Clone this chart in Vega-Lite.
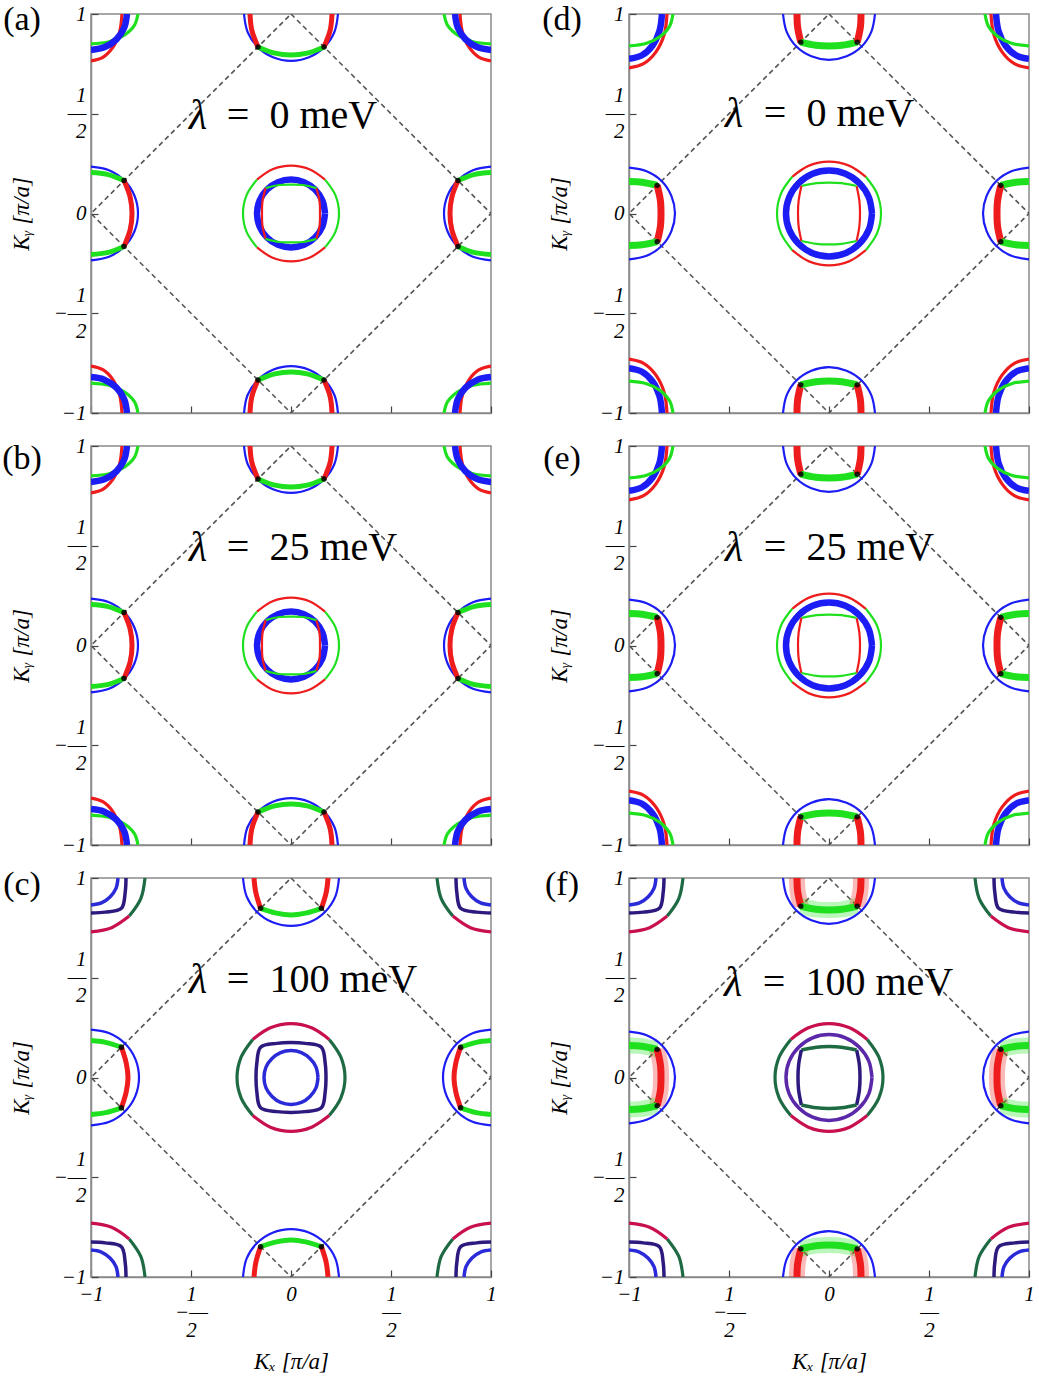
{
"$schema":"https://vega.github.io/schema/vega-lite/v6.json",
"background":"white",
"padding":{"left":1,"top":2,"right":4,"bottom":4},
"bounds":"flush",
"columns":2,
"spacing":{"row":33,"column":138},
"datasets":{
"dia":[{"x":0,"y":1},{"x":1,"y":0},{"x":0,"y":-1},{"x":-1,"y":0},{"x":0,"y":1}],
"txt":[{"p":"a","k":"l","x":-0.465,"y":0.49,"t":"λ"},{"p":"a","k":"r","x":0.055,"y":0.49,"t":"=\u00a0\u00a00\u00a0meV"},
{"p":"b","k":"l","x":-0.465,"y":0.49,"t":"λ"},{"p":"b","k":"r","x":0.105,"y":0.49,"t":"=\u00a0\u00a025\u00a0meV"},
{"p":"c","k":"l","x":-0.465,"y":0.49,"t":"λ"},{"p":"c","k":"r","x":0.155,"y":0.49,"t":"=\u00a0\u00a0100\u00a0meV"},
{"p":"d","k":"l","x":-0.475,"y":0.5,"t":"λ"},{"p":"d","k":"r","x":0.05,"y":0.5,"t":"=\u00a0\u00a00\u00a0meV"},
{"p":"e","k":"l","x":-0.475,"y":0.49,"t":"λ"},{"p":"e","k":"r","x":0.1,"y":0.49,"t":"=\u00a0\u00a025\u00a0meV"},
{"p":"f","k":"l","x":-0.48,"y":0.475,"t":"λ"},{"p":"f","k":"r","x":0.145,"y":0.475,"t":"=\u00a0\u00a0100\u00a0meV"}],
"lab":[{"p":"a","x":-1.345,"y":0.97,"t":"(a)"},{"p":"b","x":-1.345,"y":0.935,"t":"(b)"},{"p":"c","x":-1.345,"y":0.965,"t":"(c)"},{"p":"d","x":-1.335,"y":0.97,"t":"(d)"},{"p":"e","x":-1.335,"y":0.935,"t":"(e)"},{"p":"f","x":-1.335,"y":0.965,"t":"(f)"}],
"dots":[
{"g":"ab","x":0.835,"y":0.165},{"g":"ab","x":0.835,"y":-0.165},{"g":"ab","x":-0.835,"y":0.165},{"g":"ab","x":-0.835,"y":-0.165},{"g":"ab","x":0.165,"y":0.835},{"g":"ab","x":-0.165,"y":0.835},{"g":"ab","x":0.165,"y":-0.835},{"g":"ab","x":-0.165,"y":-0.835},
{"g":"def","x":0.859,"y":0.141},{"g":"def","x":0.859,"y":-0.141},{"g":"def","x":-0.859,"y":0.141},{"g":"def","x":-0.859,"y":-0.141},{"g":"def","x":0.141,"y":0.859},{"g":"def","x":-0.141,"y":0.859},{"g":"def","x":0.141,"y":-0.859},{"g":"def","x":-0.141,"y":-0.859},
{"g":"c","x":0.848,"y":0.152},{"g":"c","x":0.848,"y":-0.152},{"g":"c","x":-0.848,"y":0.152},{"g":"c","x":-0.848,"y":-0.152},{"g":"c","x":0.152,"y":0.848},{"g":"c","x":-0.152,"y":0.848},{"g":"c","x":0.152,"y":-0.848},{"g":"c","x":-0.152,"y":-0.848}],
"seg":[
{"s":"gw1g","g":"f","c":"G","w":"W"},{"s":"gw1r","g":"f","c":"R","w":"W"},{"s":"gw1h","g":"f","c":"G","w":"W"},
{"s":"gw2g","g":"f","c":"G","w":"W"},{"s":"gw2r","g":"f","c":"R","w":"W"},{"s":"gw2h","g":"f","c":"G","w":"W"},
{"s":"gw3r","g":"f","c":"R","w":"W"},{"s":"gw3g","g":"f","c":"G","w":"W"},{"s":"gw3s","g":"f","c":"R","w":"W"},
{"s":"gw4r","g":"f","c":"R","w":"W"},{"s":"gw4g","g":"f","c":"G","w":"W"},{"s":"gw4s","g":"f","c":"R","w":"W"},
{"s":"ao1","g":"ab","c":"G","w":"t"},{"s":"ao2","g":"ab","c":"R","w":"t"},{"s":"ao3","g":"ab","c":"G","w":"t"},{"s":"ao4","g":"ab","c":"R","w":"t"},
{"s":"ab0","g":"ab","c":"B","w":"K"},
{"s":"ai1","g":"ab","c":"R","w":"t"},{"s":"ai2","g":"ab","c":"G","w":"t"},{"s":"ai3","g":"ab","c":"R","w":"t"},{"s":"ai4","g":"ab","c":"G","w":"t"},
{"s":"ae1b","g":"ab","c":"B","w":"t"},{"s":"ae1g","g":"ab","c":"G","w":"k"},{"s":"ae1r","g":"ab","c":"R","w":"k"},{"s":"ae1h","g":"ab","c":"G","w":"k"},
{"s":"ae2b","g":"ab","c":"B","w":"t"},{"s":"ae2g","g":"ab","c":"G","w":"k"},{"s":"ae2r","g":"ab","c":"R","w":"k"},{"s":"ae2h","g":"ab","c":"G","w":"k"},
{"s":"ae3b","g":"ab","c":"B","w":"t"},{"s":"ae3r","g":"ab","c":"R","w":"k"},{"s":"ae3g","g":"ab","c":"G","w":"k"},{"s":"ae3s","g":"ab","c":"R","w":"k"},
{"s":"ae4b","g":"ab","c":"B","w":"t"},{"s":"ae4r","g":"ab","c":"R","w":"k"},{"s":"ae4g","g":"ab","c":"G","w":"k"},{"s":"ae4s","g":"ab","c":"R","w":"k"},
{"s":"ak1r","g":"ab","c":"R","w":"m"},{"s":"ak1g","g":"ab","c":"G","w":"m"},{"s":"ak1b","g":"ab","c":"B","w":"K"},
{"s":"ak2r","g":"ab","c":"R","w":"m"},{"s":"ak2g","g":"ab","c":"G","w":"m"},{"s":"ak2b","g":"ab","c":"B","w":"K"},
{"s":"ak3r","g":"ab","c":"R","w":"m"},{"s":"ak3g","g":"ab","c":"G","w":"m"},{"s":"ak3b","g":"ab","c":"B","w":"K"},
{"s":"ak4r","g":"ab","c":"R","w":"m"},{"s":"ak4g","g":"ab","c":"G","w":"m"},{"s":"ak4b","g":"ab","c":"B","w":"K"},
{"s":"do1","g":"de","c":"G","w":"t"},{"s":"do2","g":"de","c":"R","w":"t"},{"s":"do3","g":"de","c":"G","w":"t"},{"s":"do4","g":"de","c":"R","w":"t"},
{"s":"db0","g":"de","c":"B","w":"K"},
{"s":"di1","g":"de","c":"R","w":"t"},{"s":"di2","g":"de","c":"G","w":"t"},{"s":"di3","g":"de","c":"R","w":"t"},{"s":"di4","g":"de","c":"G","w":"t"},
{"s":"dk1r","g":"de","c":"R","w":"m"},{"s":"dk1g","g":"de","c":"G","w":"m"},{"s":"dk1b","g":"de","c":"B","w":"K"},
{"s":"dk2r","g":"de","c":"R","w":"m"},{"s":"dk2g","g":"de","c":"G","w":"m"},{"s":"dk2b","g":"de","c":"B","w":"K"},
{"s":"dk3r","g":"de","c":"R","w":"m"},{"s":"dk3g","g":"de","c":"G","w":"m"},{"s":"dk3b","g":"de","c":"B","w":"K"},
{"s":"dk4r","g":"de","c":"R","w":"m"},{"s":"dk4g","g":"de","c":"G","w":"m"},{"s":"dk4b","g":"de","c":"B","w":"K"},
{"s":"fe1b","g":"def","c":"B","w":"t"},{"s":"fe1g","g":"def","c":"G","w":"X"},{"s":"fe1r","g":"def","c":"R","w":"X"},{"s":"fe1h","g":"def","c":"G","w":"X"},
{"s":"fe2b","g":"def","c":"B","w":"t"},{"s":"fe2g","g":"def","c":"G","w":"X"},{"s":"fe2r","g":"def","c":"R","w":"X"},{"s":"fe2h","g":"def","c":"G","w":"X"},
{"s":"fe3b","g":"def","c":"B","w":"t"},{"s":"fe3r","g":"def","c":"R","w":"X"},{"s":"fe3g","g":"def","c":"G","w":"X"},{"s":"fe3s","g":"def","c":"R","w":"X"},
{"s":"fe4b","g":"def","c":"B","w":"t"},{"s":"fe4r","g":"def","c":"R","w":"X"},{"s":"fe4g","g":"def","c":"G","w":"X"},{"s":"fe4s","g":"def","c":"R","w":"X"},
{"s":"cn0","g":"c","c":"N","w":"M"},{"s":"cl0","g":"c","c":"L","w":"M"},
{"s":"ce1b","g":"c","c":"B","w":"t"},{"s":"ce1g","g":"c","c":"G","w":"k"},{"s":"ce1r","g":"c","c":"R","w":"k"},{"s":"ce1h","g":"c","c":"G","w":"k"},
{"s":"ce2b","g":"c","c":"B","w":"t"},{"s":"ce2g","g":"c","c":"G","w":"k"},{"s":"ce2r","g":"c","c":"R","w":"k"},{"s":"ce2h","g":"c","c":"G","w":"k"},
{"s":"ce3b","g":"c","c":"B","w":"t"},{"s":"ce3r","g":"c","c":"R","w":"k"},{"s":"ce3g","g":"c","c":"G","w":"k"},{"s":"ce3s","g":"c","c":"R","w":"k"},
{"s":"ce4b","g":"c","c":"B","w":"t"},{"s":"ce4r","g":"c","c":"R","w":"k"},{"s":"ce4g","g":"c","c":"G","w":"k"},{"s":"ce4s","g":"c","c":"R","w":"k"},
{"s":"xo1","g":"cf","c":"D","w":"m"},{"s":"xo2","g":"cf","c":"C","w":"m"},{"s":"xo3","g":"cf","c":"D","w":"m"},{"s":"xo4","g":"cf","c":"C","w":"m"},
{"s":"xk1o","g":"cf","c":"D","w":"m"},{"s":"xk1p","g":"cf","c":"C","w":"m"},{"s":"xk1n","g":"cf","c":"N","w":"M"},{"s":"xk1l","g":"cf","c":"L","w":"M"},
{"s":"xk2o","g":"cf","c":"D","w":"m"},{"s":"xk2p","g":"cf","c":"C","w":"m"},{"s":"xk2n","g":"cf","c":"N","w":"M"},{"s":"xk2l","g":"cf","c":"L","w":"M"},
{"s":"xk3o","g":"cf","c":"D","w":"m"},{"s":"xk3p","g":"cf","c":"C","w":"m"},{"s":"xk3n","g":"cf","c":"N","w":"M"},{"s":"xk3l","g":"cf","c":"L","w":"M"},
{"s":"xk4o","g":"cf","c":"D","w":"m"},{"s":"xk4p","g":"cf","c":"C","w":"m"},{"s":"xk4n","g":"cf","c":"N","w":"M"},{"s":"xk4l","g":"cf","c":"L","w":"M"},
{"s":"fp0","g":"f","c":"P","w":"M"},
{"s":"fi1","g":"f","c":"N","w":"M"},{"s":"fi2","g":"f","c":"D","w":"M"},{"s":"fi3","g":"f","c":"N","w":"M"},{"s":"fi4","g":"f","c":"D","w":"M"}],
"pts":[
{"s":"gw1g","x":1,"y":0.16},{"s":"gw1g","x":0.935,"y":0.157},{"s":"gw1g","x":0.859,"y":0.141},
{"s":"gw1r","x":0.859,"y":0.141},{"s":"gw1r","x":0.843,"y":0.065},{"s":"gw1r","x":0.84,"y":0},{"s":"gw1r","x":0.843,"y":-0.065},{"s":"gw1r","x":0.859,"y":-0.141},
{"s":"gw1h","x":0.859,"y":-0.141},{"s":"gw1h","x":0.935,"y":-0.157},{"s":"gw1h","x":1,"y":-0.16},
{"s":"gw2g","x":-1,"y":0.16},{"s":"gw2g","x":-0.935,"y":0.157},{"s":"gw2g","x":-0.859,"y":0.141},
{"s":"gw2r","x":-0.859,"y":0.141},{"s":"gw2r","x":-0.843,"y":0.065},{"s":"gw2r","x":-0.84,"y":0},{"s":"gw2r","x":-0.843,"y":-0.065},{"s":"gw2r","x":-0.859,"y":-0.141},
{"s":"gw2h","x":-0.859,"y":-0.141},{"s":"gw2h","x":-0.935,"y":-0.157},{"s":"gw2h","x":-1,"y":-0.16},
{"s":"gw3r","x":-0.16,"y":1},{"s":"gw3r","x":-0.157,"y":0.935},{"s":"gw3r","x":-0.141,"y":0.859},
{"s":"gw3g","x":-0.141,"y":0.859},{"s":"gw3g","x":-0.065,"y":0.843},{"s":"gw3g","x":0,"y":0.84},{"s":"gw3g","x":0.065,"y":0.843},{"s":"gw3g","x":0.141,"y":0.859},
{"s":"gw3s","x":0.141,"y":0.859},{"s":"gw3s","x":0.157,"y":0.935},{"s":"gw3s","x":0.16,"y":1},
{"s":"gw4r","x":-0.16,"y":-1},{"s":"gw4r","x":-0.157,"y":-0.935},{"s":"gw4r","x":-0.141,"y":-0.859},
{"s":"gw4g","x":-0.141,"y":-0.859},{"s":"gw4g","x":-0.065,"y":-0.843},{"s":"gw4g","x":0,"y":-0.84},{"s":"gw4g","x":0.065,"y":-0.843},{"s":"gw4g","x":0.141,"y":-0.859},
{"s":"gw4s","x":0.141,"y":-0.859},{"s":"gw4s","x":0.157,"y":-0.935},{"s":"gw4s","x":0.16,"y":-1},
{"s":"ao1","x":0.17,"y":-0.17},{"s":"ao1","x":0.222,"y":-0.092},{"s":"ao1","x":0.24,"y":0},{"s":"ao1","x":0.222,"y":0.092},{"s":"ao1","x":0.17,"y":0.17},
{"s":"ao2","x":0.17,"y":0.17},{"s":"ao2","x":0.092,"y":0.222},{"s":"ao2","x":0,"y":0.24},{"s":"ao2","x":-0.092,"y":0.222},{"s":"ao2","x":-0.17,"y":0.17},
{"s":"ao3","x":-0.17,"y":0.17},{"s":"ao3","x":-0.222,"y":0.092},{"s":"ao3","x":-0.24,"y":0},{"s":"ao3","x":-0.222,"y":-0.092},{"s":"ao3","x":-0.17,"y":-0.17},
{"s":"ao4","x":-0.17,"y":-0.17},{"s":"ao4","x":-0.092,"y":-0.222},{"s":"ao4","x":0,"y":-0.24},{"s":"ao4","x":0.092,"y":-0.222},{"s":"ao4","x":0.17,"y":-0.17},
{"s":"ab0","x":0.17,"y":0},{"s":"ab0","x":0.157,"y":0.065},{"s":"ab0","x":0.12,"y":0.12},{"s":"ab0","x":0.065,"y":0.157},{"s":"ab0","x":0,"y":0.17},{"s":"ab0","x":-0.065,"y":0.157},{"s":"ab0","x":-0.12,"y":0.12},{"s":"ab0","x":-0.157,"y":0.065},{"s":"ab0","x":-0.17,"y":0},{"s":"ab0","x":-0.157,"y":-0.065},{"s":"ab0","x":-0.12,"y":-0.12},{"s":"ab0","x":-0.065,"y":-0.157},{"s":"ab0","x":0,"y":-0.17},{"s":"ab0","x":0.065,"y":-0.157},{"s":"ab0","x":0.12,"y":-0.12},{"s":"ab0","x":0.157,"y":-0.065},{"s":"ab0","x":0.17,"y":0},
{"s":"ai1","x":0.127,"y":-0.127},{"s":"ai1","x":0.143,"y":-0.059},{"s":"ai1","x":0.145,"y":0},{"s":"ai1","x":0.143,"y":0.059},{"s":"ai1","x":0.127,"y":0.127},
{"s":"ai2","x":0.127,"y":0.127},{"s":"ai2","x":0.059,"y":0.143},{"s":"ai2","x":0,"y":0.145},{"s":"ai2","x":-0.059,"y":0.143},{"s":"ai2","x":-0.127,"y":0.127},
{"s":"ai3","x":-0.127,"y":0.127},{"s":"ai3","x":-0.143,"y":0.059},{"s":"ai3","x":-0.145,"y":0},{"s":"ai3","x":-0.143,"y":-0.059},{"s":"ai3","x":-0.127,"y":-0.127},
{"s":"ai4","x":-0.127,"y":-0.127},{"s":"ai4","x":-0.059,"y":-0.143},{"s":"ai4","x":0,"y":-0.145},{"s":"ai4","x":0.059,"y":-0.143},{"s":"ai4","x":0.127,"y":-0.127},
{"s":"ae1b","x":1,"y":0.235},{"s":"ae1b","x":0.91,"y":0.217},{"s":"ae1b","x":0.834,"y":0.166},{"s":"ae1b","x":0.783,"y":0.09},{"s":"ae1b","x":0.765,"y":0},{"s":"ae1b","x":0.783,"y":-0.09},{"s":"ae1b","x":0.834,"y":-0.166},{"s":"ae1b","x":0.91,"y":-0.217},{"s":"ae1b","x":1,"y":-0.235},
{"s":"ae1g","x":1,"y":0.205},{"s":"ae1g","x":0.919,"y":0.196},{"s":"ae1g","x":0.835,"y":0.165},
{"s":"ae1r","x":0.835,"y":0.165},{"s":"ae1r","x":0.804,"y":0.081},{"s":"ae1r","x":0.795,"y":0},{"s":"ae1r","x":0.804,"y":-0.081},{"s":"ae1r","x":0.835,"y":-0.165},
{"s":"ae1h","x":0.835,"y":-0.165},{"s":"ae1h","x":0.919,"y":-0.196},{"s":"ae1h","x":1,"y":-0.205},
{"s":"ae2b","x":-1,"y":0.235},{"s":"ae2b","x":-0.91,"y":0.217},{"s":"ae2b","x":-0.834,"y":0.166},{"s":"ae2b","x":-0.783,"y":0.09},{"s":"ae2b","x":-0.765,"y":0},{"s":"ae2b","x":-0.783,"y":-0.09},{"s":"ae2b","x":-0.834,"y":-0.166},{"s":"ae2b","x":-0.91,"y":-0.217},{"s":"ae2b","x":-1,"y":-0.235},
{"s":"ae2g","x":-1,"y":0.205},{"s":"ae2g","x":-0.919,"y":0.196},{"s":"ae2g","x":-0.835,"y":0.165},
{"s":"ae2r","x":-0.835,"y":0.165},{"s":"ae2r","x":-0.804,"y":0.081},{"s":"ae2r","x":-0.795,"y":0},{"s":"ae2r","x":-0.804,"y":-0.081},{"s":"ae2r","x":-0.835,"y":-0.165},
{"s":"ae2h","x":-0.835,"y":-0.165},{"s":"ae2h","x":-0.919,"y":-0.196},{"s":"ae2h","x":-1,"y":-0.205},
{"s":"ae3b","x":-0.235,"y":1},{"s":"ae3b","x":-0.217,"y":0.91},{"s":"ae3b","x":-0.166,"y":0.834},{"s":"ae3b","x":-0.09,"y":0.783},{"s":"ae3b","x":0,"y":0.765},{"s":"ae3b","x":0.09,"y":0.783},{"s":"ae3b","x":0.166,"y":0.834},{"s":"ae3b","x":0.217,"y":0.91},{"s":"ae3b","x":0.235,"y":1},
{"s":"ae3r","x":-0.205,"y":1},{"s":"ae3r","x":-0.196,"y":0.919},{"s":"ae3r","x":-0.165,"y":0.835},
{"s":"ae3g","x":-0.165,"y":0.835},{"s":"ae3g","x":-0.081,"y":0.804},{"s":"ae3g","x":0,"y":0.795},{"s":"ae3g","x":0.081,"y":0.804},{"s":"ae3g","x":0.165,"y":0.835},
{"s":"ae3s","x":0.165,"y":0.835},{"s":"ae3s","x":0.196,"y":0.919},{"s":"ae3s","x":0.205,"y":1},
{"s":"ae4b","x":-0.235,"y":-1},{"s":"ae4b","x":-0.217,"y":-0.91},{"s":"ae4b","x":-0.166,"y":-0.834},{"s":"ae4b","x":-0.09,"y":-0.783},{"s":"ae4b","x":0,"y":-0.765},{"s":"ae4b","x":0.09,"y":-0.783},{"s":"ae4b","x":0.166,"y":-0.834},{"s":"ae4b","x":0.217,"y":-0.91},{"s":"ae4b","x":0.235,"y":-1},
{"s":"ae4r","x":-0.205,"y":-1},{"s":"ae4r","x":-0.196,"y":-0.919},{"s":"ae4r","x":-0.165,"y":-0.835},
{"s":"ae4g","x":-0.165,"y":-0.835},{"s":"ae4g","x":-0.081,"y":-0.804},{"s":"ae4g","x":0,"y":-0.795},{"s":"ae4g","x":0.081,"y":-0.804},{"s":"ae4g","x":0.165,"y":-0.835},
{"s":"ae4s","x":0.165,"y":-0.835},{"s":"ae4s","x":0.196,"y":-0.919},{"s":"ae4s","x":0.205,"y":-1},
{"s":"ak1r","x":-0.845,"y":1},{"s":"ak1r","x":-0.857,"y":0.91},{"s":"ak1r","x":-0.89,"y":0.834},{"s":"ak1r","x":-0.941,"y":0.783},{"s":"ak1r","x":-1,"y":0.765},
{"s":"ak1g","x":-0.765,"y":1},{"s":"ak1g","x":-0.783,"y":0.943},{"s":"ak1g","x":-0.834,"y":0.894},{"s":"ak1g","x":-0.91,"y":0.861},{"s":"ak1g","x":-1,"y":0.85},
{"s":"ak1b","x":-0.82,"y":1},{"s":"ak1b","x":-0.834,"y":0.931},{"s":"ak1b","x":-0.873,"y":0.873},{"s":"ak1b","x":-0.931,"y":0.834},{"s":"ak1b","x":-1,"y":0.82},
{"s":"ak2r","x":0.845,"y":1},{"s":"ak2r","x":0.857,"y":0.91},{"s":"ak2r","x":0.89,"y":0.834},{"s":"ak2r","x":0.941,"y":0.783},{"s":"ak2r","x":1,"y":0.765},
{"s":"ak2g","x":0.765,"y":1},{"s":"ak2g","x":0.783,"y":0.943},{"s":"ak2g","x":0.834,"y":0.894},{"s":"ak2g","x":0.91,"y":0.861},{"s":"ak2g","x":1,"y":0.85},
{"s":"ak2b","x":0.82,"y":1},{"s":"ak2b","x":0.834,"y":0.931},{"s":"ak2b","x":0.873,"y":0.873},{"s":"ak2b","x":0.931,"y":0.834},{"s":"ak2b","x":1,"y":0.82},
{"s":"ak3r","x":-0.845,"y":-1},{"s":"ak3r","x":-0.857,"y":-0.91},{"s":"ak3r","x":-0.89,"y":-0.834},{"s":"ak3r","x":-0.941,"y":-0.783},{"s":"ak3r","x":-1,"y":-0.765},
{"s":"ak3g","x":-0.765,"y":-1},{"s":"ak3g","x":-0.783,"y":-0.943},{"s":"ak3g","x":-0.834,"y":-0.894},{"s":"ak3g","x":-0.91,"y":-0.861},{"s":"ak3g","x":-1,"y":-0.85},
{"s":"ak3b","x":-0.82,"y":-1},{"s":"ak3b","x":-0.834,"y":-0.931},{"s":"ak3b","x":-0.873,"y":-0.873},{"s":"ak3b","x":-0.931,"y":-0.834},{"s":"ak3b","x":-1,"y":-0.82},
{"s":"ak4r","x":0.845,"y":-1},{"s":"ak4r","x":0.857,"y":-0.91},{"s":"ak4r","x":0.89,"y":-0.834},{"s":"ak4r","x":0.941,"y":-0.783},{"s":"ak4r","x":1,"y":-0.765},
{"s":"ak4g","x":0.765,"y":-1},{"s":"ak4g","x":0.783,"y":-0.943},{"s":"ak4g","x":0.834,"y":-0.894},{"s":"ak4g","x":0.91,"y":-0.861},{"s":"ak4g","x":1,"y":-0.85},
{"s":"ak4b","x":0.82,"y":-1},{"s":"ak4b","x":0.834,"y":-0.931},{"s":"ak4b","x":0.873,"y":-0.873},{"s":"ak4b","x":0.931,"y":-0.834},{"s":"ak4b","x":1,"y":-0.82},
{"s":"do1","x":0.184,"y":-0.184},{"s":"do1","x":0.24,"y":-0.1},{"s":"do1","x":0.26,"y":0},{"s":"do1","x":0.24,"y":0.1},{"s":"do1","x":0.184,"y":0.184},
{"s":"do2","x":0.184,"y":0.184},{"s":"do2","x":0.1,"y":0.24},{"s":"do2","x":0,"y":0.26},{"s":"do2","x":-0.1,"y":0.24},{"s":"do2","x":-0.184,"y":0.184},
{"s":"do3","x":-0.184,"y":0.184},{"s":"do3","x":-0.24,"y":0.1},{"s":"do3","x":-0.26,"y":0},{"s":"do3","x":-0.24,"y":-0.1},{"s":"do3","x":-0.184,"y":-0.184},
{"s":"do4","x":-0.184,"y":-0.184},{"s":"do4","x":-0.1,"y":-0.24},{"s":"do4","x":0,"y":-0.26},{"s":"do4","x":0.1,"y":-0.24},{"s":"do4","x":0.184,"y":-0.184},
{"s":"db0","x":0.215,"y":0},{"s":"db0","x":0.199,"y":0.082},{"s":"db0","x":0.152,"y":0.152},{"s":"db0","x":0.082,"y":0.199},{"s":"db0","x":0,"y":0.215},{"s":"db0","x":-0.082,"y":0.199},{"s":"db0","x":-0.152,"y":0.152},{"s":"db0","x":-0.199,"y":0.082},{"s":"db0","x":-0.215,"y":0},{"s":"db0","x":-0.199,"y":-0.082},{"s":"db0","x":-0.152,"y":-0.152},{"s":"db0","x":-0.082,"y":-0.199},{"s":"db0","x":0,"y":-0.215},{"s":"db0","x":0.082,"y":-0.199},{"s":"db0","x":0.152,"y":-0.152},{"s":"db0","x":0.199,"y":-0.082},{"s":"db0","x":0.215,"y":0},
{"s":"di1","x":0.138,"y":-0.138},{"s":"di1","x":0.152,"y":-0.063},{"s":"di1","x":0.155,"y":0},{"s":"di1","x":0.152,"y":0.063},{"s":"di1","x":0.138,"y":0.138},
{"s":"di2","x":0.138,"y":0.138},{"s":"di2","x":0.063,"y":0.152},{"s":"di2","x":0,"y":0.155},{"s":"di2","x":-0.063,"y":0.152},{"s":"di2","x":-0.138,"y":0.138},
{"s":"di3","x":-0.138,"y":0.138},{"s":"di3","x":-0.152,"y":0.063},{"s":"di3","x":-0.155,"y":0},{"s":"di3","x":-0.152,"y":-0.063},{"s":"di3","x":-0.138,"y":-0.138},
{"s":"di4","x":-0.138,"y":-0.138},{"s":"di4","x":-0.063,"y":-0.152},{"s":"di4","x":0,"y":-0.155},{"s":"di4","x":0.063,"y":-0.152},{"s":"di4","x":0.138,"y":-0.138},
{"s":"dk1r","x":-0.81,"y":1},{"s":"dk1r","x":-0.824,"y":0.897},{"s":"dk1r","x":-0.866,"y":0.809},{"s":"dk1r","x":-0.927,"y":0.751},{"s":"dk1r","x":-1,"y":0.73},
{"s":"dk1b","x":-0.835,"y":1},{"s":"dk1b","x":-0.848,"y":0.914},{"s":"dk1b","x":-0.883,"y":0.841},{"s":"dk1b","x":-0.937,"y":0.792},{"s":"dk1b","x":-1,"y":0.775},
{"s":"dk1g","x":-0.78,"y":1},{"s":"dk1g","x":-0.797,"y":0.939},{"s":"dk1g","x":-0.844,"y":0.887},{"s":"dk1g","x":-0.916,"y":0.852},{"s":"dk1g","x":-1,"y":0.84},
{"s":"dk2r","x":0.81,"y":1},{"s":"dk2r","x":0.824,"y":0.897},{"s":"dk2r","x":0.866,"y":0.809},{"s":"dk2r","x":0.927,"y":0.751},{"s":"dk2r","x":1,"y":0.73},
{"s":"dk2b","x":0.835,"y":1},{"s":"dk2b","x":0.848,"y":0.914},{"s":"dk2b","x":0.883,"y":0.841},{"s":"dk2b","x":0.937,"y":0.792},{"s":"dk2b","x":1,"y":0.775},
{"s":"dk2g","x":0.78,"y":1},{"s":"dk2g","x":0.797,"y":0.939},{"s":"dk2g","x":0.844,"y":0.887},{"s":"dk2g","x":0.916,"y":0.852},{"s":"dk2g","x":1,"y":0.84},
{"s":"dk3r","x":-0.81,"y":-1},{"s":"dk3r","x":-0.824,"y":-0.897},{"s":"dk3r","x":-0.866,"y":-0.809},{"s":"dk3r","x":-0.927,"y":-0.751},{"s":"dk3r","x":-1,"y":-0.73},
{"s":"dk3b","x":-0.835,"y":-1},{"s":"dk3b","x":-0.848,"y":-0.914},{"s":"dk3b","x":-0.883,"y":-0.841},{"s":"dk3b","x":-0.937,"y":-0.792},{"s":"dk3b","x":-1,"y":-0.775},
{"s":"dk3g","x":-0.78,"y":-1},{"s":"dk3g","x":-0.797,"y":-0.939},{"s":"dk3g","x":-0.844,"y":-0.887},{"s":"dk3g","x":-0.916,"y":-0.852},{"s":"dk3g","x":-1,"y":-0.84},
{"s":"dk4r","x":0.81,"y":-1},{"s":"dk4r","x":0.824,"y":-0.897},{"s":"dk4r","x":0.866,"y":-0.809},{"s":"dk4r","x":0.927,"y":-0.751},{"s":"dk4r","x":1,"y":-0.73},
{"s":"dk4b","x":0.835,"y":-1},{"s":"dk4b","x":0.848,"y":-0.914},{"s":"dk4b","x":0.883,"y":-0.841},{"s":"dk4b","x":0.937,"y":-0.792},{"s":"dk4b","x":1,"y":-0.775},
{"s":"dk4g","x":0.78,"y":-1},{"s":"dk4g","x":0.797,"y":-0.939},{"s":"dk4g","x":0.844,"y":-0.887},{"s":"dk4g","x":0.916,"y":-0.852},{"s":"dk4g","x":1,"y":-0.84},
{"s":"fe1b","x":1,"y":0.23},{"s":"fe1b","x":0.912,"y":0.212},{"s":"fe1b","x":0.837,"y":0.163},{"s":"fe1b","x":0.788,"y":0.088},{"s":"fe1b","x":0.77,"y":0},{"s":"fe1b","x":0.788,"y":-0.088},{"s":"fe1b","x":0.837,"y":-0.163},{"s":"fe1b","x":0.912,"y":-0.212},{"s":"fe1b","x":1,"y":-0.23},
{"s":"fe1g","x":1,"y":0.16},{"s":"fe1g","x":0.935,"y":0.157},{"s":"fe1g","x":0.859,"y":0.141},
{"s":"fe1r","x":0.859,"y":0.141},{"s":"fe1r","x":0.843,"y":0.065},{"s":"fe1r","x":0.84,"y":0},{"s":"fe1r","x":0.843,"y":-0.065},{"s":"fe1r","x":0.859,"y":-0.141},
{"s":"fe1h","x":0.859,"y":-0.141},{"s":"fe1h","x":0.935,"y":-0.157},{"s":"fe1h","x":1,"y":-0.16},
{"s":"fe2b","x":-1,"y":0.23},{"s":"fe2b","x":-0.912,"y":0.212},{"s":"fe2b","x":-0.837,"y":0.163},{"s":"fe2b","x":-0.788,"y":0.088},{"s":"fe2b","x":-0.77,"y":0},{"s":"fe2b","x":-0.788,"y":-0.088},{"s":"fe2b","x":-0.837,"y":-0.163},{"s":"fe2b","x":-0.912,"y":-0.212},{"s":"fe2b","x":-1,"y":-0.23},
{"s":"fe2g","x":-1,"y":0.16},{"s":"fe2g","x":-0.935,"y":0.157},{"s":"fe2g","x":-0.859,"y":0.141},
{"s":"fe2r","x":-0.859,"y":0.141},{"s":"fe2r","x":-0.843,"y":0.065},{"s":"fe2r","x":-0.84,"y":0},{"s":"fe2r","x":-0.843,"y":-0.065},{"s":"fe2r","x":-0.859,"y":-0.141},
{"s":"fe2h","x":-0.859,"y":-0.141},{"s":"fe2h","x":-0.935,"y":-0.157},{"s":"fe2h","x":-1,"y":-0.16},
{"s":"fe3b","x":-0.23,"y":1},{"s":"fe3b","x":-0.212,"y":0.912},{"s":"fe3b","x":-0.163,"y":0.837},{"s":"fe3b","x":-0.088,"y":0.788},{"s":"fe3b","x":0,"y":0.77},{"s":"fe3b","x":0.088,"y":0.788},{"s":"fe3b","x":0.163,"y":0.837},{"s":"fe3b","x":0.212,"y":0.912},{"s":"fe3b","x":0.23,"y":1},
{"s":"fe3r","x":-0.16,"y":1},{"s":"fe3r","x":-0.157,"y":0.935},{"s":"fe3r","x":-0.141,"y":0.859},
{"s":"fe3g","x":-0.141,"y":0.859},{"s":"fe3g","x":-0.065,"y":0.843},{"s":"fe3g","x":0,"y":0.84},{"s":"fe3g","x":0.065,"y":0.843},{"s":"fe3g","x":0.141,"y":0.859},
{"s":"fe3s","x":0.141,"y":0.859},{"s":"fe3s","x":0.157,"y":0.935},{"s":"fe3s","x":0.16,"y":1},
{"s":"fe4b","x":-0.23,"y":-1},{"s":"fe4b","x":-0.212,"y":-0.912},{"s":"fe4b","x":-0.163,"y":-0.837},{"s":"fe4b","x":-0.088,"y":-0.788},{"s":"fe4b","x":0,"y":-0.77},{"s":"fe4b","x":0.088,"y":-0.788},{"s":"fe4b","x":0.163,"y":-0.837},{"s":"fe4b","x":0.212,"y":-0.912},{"s":"fe4b","x":0.23,"y":-1},
{"s":"fe4r","x":-0.16,"y":-1},{"s":"fe4r","x":-0.157,"y":-0.935},{"s":"fe4r","x":-0.141,"y":-0.859},
{"s":"fe4g","x":-0.141,"y":-0.859},{"s":"fe4g","x":-0.065,"y":-0.843},{"s":"fe4g","x":0,"y":-0.84},{"s":"fe4g","x":0.065,"y":-0.843},{"s":"fe4g","x":0.141,"y":-0.859},
{"s":"fe4s","x":0.141,"y":-0.859},{"s":"fe4s","x":0.157,"y":-0.935},{"s":"fe4s","x":0.16,"y":-1},
{"s":"cn0","x":0.175,"y":0},{"s":"cn0","x":0.171,"y":0.071},{"s":"cn0","x":0.152,"y":0.152},{"s":"cn0","x":0.071,"y":0.171},{"s":"cn0","x":0,"y":0.175},{"s":"cn0","x":-0.071,"y":0.171},{"s":"cn0","x":-0.152,"y":0.152},{"s":"cn0","x":-0.171,"y":0.071},{"s":"cn0","x":-0.175,"y":0},{"s":"cn0","x":-0.171,"y":-0.071},{"s":"cn0","x":-0.152,"y":-0.152},{"s":"cn0","x":-0.071,"y":-0.171},{"s":"cn0","x":0,"y":-0.175},{"s":"cn0","x":0.071,"y":-0.171},{"s":"cn0","x":0.152,"y":-0.152},{"s":"cn0","x":0.171,"y":-0.071},{"s":"cn0","x":0.175,"y":0},
{"s":"cl0","x":0.135,"y":0},{"s":"cl0","x":0.125,"y":0.052},{"s":"cl0","x":0.095,"y":0.095},{"s":"cl0","x":0.052,"y":0.125},{"s":"cl0","x":0,"y":0.135},{"s":"cl0","x":-0.052,"y":0.125},{"s":"cl0","x":-0.095,"y":0.095},{"s":"cl0","x":-0.125,"y":0.052},{"s":"cl0","x":-0.135,"y":0},{"s":"cl0","x":-0.125,"y":-0.052},{"s":"cl0","x":-0.095,"y":-0.095},{"s":"cl0","x":-0.052,"y":-0.125},{"s":"cl0","x":0,"y":-0.135},{"s":"cl0","x":0.052,"y":-0.125},{"s":"cl0","x":0.095,"y":-0.095},{"s":"cl0","x":0.125,"y":-0.052},{"s":"cl0","x":0.135,"y":0},
{"s":"ce1b","x":1,"y":0.24},{"s":"ce1b","x":0.908,"y":0.222},{"s":"ce1b","x":0.83,"y":0.17},{"s":"ce1b","x":0.778,"y":0.092},{"s":"ce1b","x":0.76,"y":0},{"s":"ce1b","x":0.778,"y":-0.092},{"s":"ce1b","x":0.83,"y":-0.17},{"s":"ce1b","x":0.908,"y":-0.222},{"s":"ce1b","x":1,"y":-0.24},
{"s":"ce1g","x":1,"y":0.185},{"s":"ce1g","x":0.927,"y":0.176},{"s":"ce1g","x":0.848,"y":0.152},
{"s":"ce1r","x":0.848,"y":0.152},{"s":"ce1r","x":0.824,"y":0.073},{"s":"ce1r","x":0.815,"y":0},{"s":"ce1r","x":0.824,"y":-0.073},{"s":"ce1r","x":0.848,"y":-0.152},
{"s":"ce1h","x":0.848,"y":-0.152},{"s":"ce1h","x":0.927,"y":-0.176},{"s":"ce1h","x":1,"y":-0.185},
{"s":"ce2b","x":-1,"y":0.24},{"s":"ce2b","x":-0.908,"y":0.222},{"s":"ce2b","x":-0.83,"y":0.17},{"s":"ce2b","x":-0.778,"y":0.092},{"s":"ce2b","x":-0.76,"y":0},{"s":"ce2b","x":-0.778,"y":-0.092},{"s":"ce2b","x":-0.83,"y":-0.17},{"s":"ce2b","x":-0.908,"y":-0.222},{"s":"ce2b","x":-1,"y":-0.24},
{"s":"ce2g","x":-1,"y":0.185},{"s":"ce2g","x":-0.927,"y":0.176},{"s":"ce2g","x":-0.848,"y":0.152},
{"s":"ce2r","x":-0.848,"y":0.152},{"s":"ce2r","x":-0.824,"y":0.073},{"s":"ce2r","x":-0.815,"y":0},{"s":"ce2r","x":-0.824,"y":-0.073},{"s":"ce2r","x":-0.848,"y":-0.152},
{"s":"ce2h","x":-0.848,"y":-0.152},{"s":"ce2h","x":-0.927,"y":-0.176},{"s":"ce2h","x":-1,"y":-0.185},
{"s":"ce3b","x":-0.24,"y":1},{"s":"ce3b","x":-0.222,"y":0.908},{"s":"ce3b","x":-0.17,"y":0.83},{"s":"ce3b","x":-0.092,"y":0.778},{"s":"ce3b","x":0,"y":0.76},{"s":"ce3b","x":0.092,"y":0.778},{"s":"ce3b","x":0.17,"y":0.83},{"s":"ce3b","x":0.222,"y":0.908},{"s":"ce3b","x":0.24,"y":1},
{"s":"ce3r","x":-0.185,"y":1},{"s":"ce3r","x":-0.176,"y":0.927},{"s":"ce3r","x":-0.152,"y":0.848},
{"s":"ce3g","x":-0.152,"y":0.848},{"s":"ce3g","x":-0.073,"y":0.824},{"s":"ce3g","x":0,"y":0.815},{"s":"ce3g","x":0.073,"y":0.824},{"s":"ce3g","x":0.152,"y":0.848},
{"s":"ce3s","x":0.152,"y":0.848},{"s":"ce3s","x":0.176,"y":0.927},{"s":"ce3s","x":0.185,"y":1},
{"s":"ce4b","x":-0.24,"y":-1},{"s":"ce4b","x":-0.222,"y":-0.908},{"s":"ce4b","x":-0.17,"y":-0.83},{"s":"ce4b","x":-0.092,"y":-0.778},{"s":"ce4b","x":0,"y":-0.76},{"s":"ce4b","x":0.092,"y":-0.778},{"s":"ce4b","x":0.17,"y":-0.83},{"s":"ce4b","x":0.222,"y":-0.908},{"s":"ce4b","x":0.24,"y":-1},
{"s":"ce4r","x":-0.185,"y":-1},{"s":"ce4r","x":-0.176,"y":-0.927},{"s":"ce4r","x":-0.152,"y":-0.848},
{"s":"ce4g","x":-0.152,"y":-0.848},{"s":"ce4g","x":-0.073,"y":-0.824},{"s":"ce4g","x":0,"y":-0.815},{"s":"ce4g","x":0.073,"y":-0.824},{"s":"ce4g","x":0.152,"y":-0.848},
{"s":"ce4s","x":0.152,"y":-0.848},{"s":"ce4s","x":0.176,"y":-0.927},{"s":"ce4s","x":0.185,"y":-1},
{"s":"xo1","x":0.191,"y":-0.191},{"s":"xo1","x":0.249,"y":-0.103},{"s":"xo1","x":0.27,"y":0},{"s":"xo1","x":0.249,"y":0.103},{"s":"xo1","x":0.191,"y":0.191},
{"s":"xo2","x":0.191,"y":0.191},{"s":"xo2","x":0.103,"y":0.249},{"s":"xo2","x":0,"y":0.27},{"s":"xo2","x":-0.103,"y":0.249},{"s":"xo2","x":-0.191,"y":0.191},
{"s":"xo3","x":-0.191,"y":0.191},{"s":"xo3","x":-0.249,"y":0.103},{"s":"xo3","x":-0.27,"y":0},{"s":"xo3","x":-0.249,"y":-0.103},{"s":"xo3","x":-0.191,"y":-0.191},
{"s":"xo4","x":-0.191,"y":-0.191},{"s":"xo4","x":-0.103,"y":-0.249},{"s":"xo4","x":0,"y":-0.27},{"s":"xo4","x":0.103,"y":-0.249},{"s":"xo4","x":0.191,"y":-0.191},
{"s":"xk1o","x":-0.73,"y":1},{"s":"xk1o","x":-0.751,"y":0.897},{"s":"xk1o","x":-0.809,"y":0.809},
{"s":"xk1p","x":-0.809,"y":0.809},{"s":"xk1p","x":-0.897,"y":0.751},{"s":"xk1p","x":-1,"y":0.73},
{"s":"xk1n","x":-0.825,"y":1},{"s":"xk1n","x":-0.829,"y":0.929},{"s":"xk1n","x":-0.848,"y":0.848},{"s":"xk1n","x":-0.929,"y":0.829},{"s":"xk1n","x":-1,"y":0.825},
{"s":"xk1l","x":-0.865,"y":1},{"s":"xk1l","x":-0.875,"y":0.948},{"s":"xk1l","x":-0.905,"y":0.905},{"s":"xk1l","x":-0.948,"y":0.875},{"s":"xk1l","x":-1,"y":0.865},
{"s":"xk2o","x":0.73,"y":1},{"s":"xk2o","x":0.751,"y":0.897},{"s":"xk2o","x":0.809,"y":0.809},
{"s":"xk2p","x":0.809,"y":0.809},{"s":"xk2p","x":0.897,"y":0.751},{"s":"xk2p","x":1,"y":0.73},
{"s":"xk2n","x":0.825,"y":1},{"s":"xk2n","x":0.829,"y":0.929},{"s":"xk2n","x":0.848,"y":0.848},{"s":"xk2n","x":0.929,"y":0.829},{"s":"xk2n","x":1,"y":0.825},
{"s":"xk2l","x":0.865,"y":1},{"s":"xk2l","x":0.875,"y":0.948},{"s":"xk2l","x":0.905,"y":0.905},{"s":"xk2l","x":0.948,"y":0.875},{"s":"xk2l","x":1,"y":0.865},
{"s":"xk3o","x":-0.73,"y":-1},{"s":"xk3o","x":-0.751,"y":-0.897},{"s":"xk3o","x":-0.809,"y":-0.809},
{"s":"xk3p","x":-0.809,"y":-0.809},{"s":"xk3p","x":-0.897,"y":-0.751},{"s":"xk3p","x":-1,"y":-0.73},
{"s":"xk3n","x":-0.825,"y":-1},{"s":"xk3n","x":-0.829,"y":-0.929},{"s":"xk3n","x":-0.848,"y":-0.848},{"s":"xk3n","x":-0.929,"y":-0.829},{"s":"xk3n","x":-1,"y":-0.825},
{"s":"xk3l","x":-0.865,"y":-1},{"s":"xk3l","x":-0.875,"y":-0.948},{"s":"xk3l","x":-0.905,"y":-0.905},{"s":"xk3l","x":-0.948,"y":-0.875},{"s":"xk3l","x":-1,"y":-0.865},
{"s":"xk4o","x":0.73,"y":-1},{"s":"xk4o","x":0.751,"y":-0.897},{"s":"xk4o","x":0.809,"y":-0.809},
{"s":"xk4p","x":0.809,"y":-0.809},{"s":"xk4p","x":0.897,"y":-0.751},{"s":"xk4p","x":1,"y":-0.73},
{"s":"xk4n","x":0.825,"y":-1},{"s":"xk4n","x":0.829,"y":-0.929},{"s":"xk4n","x":0.848,"y":-0.848},{"s":"xk4n","x":0.929,"y":-0.829},{"s":"xk4n","x":1,"y":-0.825},
{"s":"xk4l","x":0.865,"y":-1},{"s":"xk4l","x":0.875,"y":-0.948},{"s":"xk4l","x":0.905,"y":-0.905},{"s":"xk4l","x":0.948,"y":-0.875},{"s":"xk4l","x":1,"y":-0.865},
{"s":"fp0","x":0.215,"y":0},{"s":"fp0","x":0.199,"y":0.082},{"s":"fp0","x":0.152,"y":0.152},{"s":"fp0","x":0.082,"y":0.199},{"s":"fp0","x":0,"y":0.215},{"s":"fp0","x":-0.082,"y":0.199},{"s":"fp0","x":-0.152,"y":0.152},{"s":"fp0","x":-0.199,"y":0.082},{"s":"fp0","x":-0.215,"y":0},{"s":"fp0","x":-0.199,"y":-0.082},{"s":"fp0","x":-0.152,"y":-0.152},{"s":"fp0","x":-0.082,"y":-0.199},{"s":"fp0","x":0,"y":-0.215},{"s":"fp0","x":0.082,"y":-0.199},{"s":"fp0","x":0.152,"y":-0.152},{"s":"fp0","x":0.199,"y":-0.082},{"s":"fp0","x":0.215,"y":0},
{"s":"fi1","x":0.138,"y":-0.138},{"s":"fi1","x":0.152,"y":-0.063},{"s":"fi1","x":0.155,"y":0},{"s":"fi1","x":0.152,"y":0.063},{"s":"fi1","x":0.138,"y":0.138},
{"s":"fi2","x":0.138,"y":0.138},{"s":"fi2","x":0.063,"y":0.152},{"s":"fi2","x":0,"y":0.155},{"s":"fi2","x":-0.063,"y":0.152},{"s":"fi2","x":-0.138,"y":0.138},
{"s":"fi3","x":-0.138,"y":0.138},{"s":"fi3","x":-0.152,"y":0.063},{"s":"fi3","x":-0.155,"y":0},{"s":"fi3","x":-0.152,"y":-0.063},{"s":"fi3","x":-0.138,"y":-0.138},
{"s":"fi4","x":-0.138,"y":-0.138},{"s":"fi4","x":-0.063,"y":-0.152},{"s":"fi4","x":0,"y":-0.155},{"s":"fi4","x":0.063,"y":-0.152},{"s":"fi4","x":0.138,"y":-0.138}
]},
"concat":[
{"width":400,"height":399,
"encoding":{"x":{"field":"x","type":"quantitative","scale":{"domain":[-1,1],"nice":false,"zero":false},"axis":{"values":[-1,-0.5,0,0.5,1],"labels":false,"title":null}},
"y":{"field":"y","type":"quantitative","scale":{"domain":[-1,1],"nice":false,"zero":false},"axis":{"values":[-1,-0.5,0,0.5,1],"labelOffset":{"condition":{"test":"abs(datum.value)==0.5","value":-18},"value":0},"labelExpr":"datum.value==0.5?['1\u00a0','\u2014','2\u00a0']:datum.value==-0.5?['1\u00a0','\u2212\u2014','2\u00a0']:datum.value==1?'1':datum.value==-1?'\u22121':'0'","title":"K\u1d67 [\u03c0/a]"}}},
"layer":[
{"data":{"name":"dia"},"mark":{"type":"line","color":"#555","strokeWidth":1.6,"strokeDash":[5,3.5],"clip":true},"encoding":{"order":{"value":null}}},
{"data":{"name":"pts"},"transform":[{"lookup":"s","from":{"data":{"name":"seg"},"key":"s","fields":["g","c","w"]}},{"filter":"indexof(datum.g,'a')>=0"}],"mark":{"type":"line","interpolate":"catmull-rom","clip":true,"strokeCap":"butt","strokeJoin":"round"},"encoding":{"order":{"value":null},"detail":{"field":"s"},"color":{"field":"c","type":"nominal","scale":{"domain":["R","G","B","C","D","N","L","P"],"range":["#ee1c1c","#1fe01f","#1c1cf5","#c8104e","#1d6a43","#2e1a7e","#2a2ad8","#5a28a8"]},"legend":null},"strokeWidth":{"field":"w","type":"nominal","scale":{"type":"ordinal","domain":["t","m","M","k","K","X","W"],"range":[2.2,3.2,3.5,5,6.5,7,16]},"legend":null},"opacity":{"field":"w","type":"nominal","scale":{"type":"ordinal","domain":["t","m","M","k","K","X","W"],"range":[1,1,1,1,1,1,0.3]},"legend":null}}},
{"data":{"name":"dots"},"transform":[{"filter":"indexof(datum.g,'a')>=0"}],"mark":{"type":"point","filled":true,"color":"#000","size":30,"opacity":0.85}},
{"data":{"name":"txt"},"transform":[{"filter":"datum.p=='a' && datum.k=='l'"}],"mark":{"type":"text","fontSize":42,"font":"Liberation Serif","fontStyle":"italic"},"encoding":{"text":{"field":"t"}}},
{"data":{"name":"txt"},"transform":[{"filter":"datum.p=='a' && datum.k=='r'"}],"mark":{"type":"text","fontSize":40,"font":"Liberation Serif"},"encoding":{"text":{"field":"t"}}},
{"data":{"name":"lab"},"transform":[{"filter":"datum.p=='a'"}],"mark":{"type":"text","fontSize":34,"font":"Liberation Serif"},"encoding":{"text":{"field":"t"}}}
]},
{"width":400,"height":399,
"encoding":{"x":{"field":"x","type":"quantitative","scale":{"domain":[-1,1],"nice":false,"zero":false},"axis":{"values":[-1,-0.5,0,0.5,1],"labels":false,"title":null}},
"y":{"field":"y","type":"quantitative","scale":{"domain":[-1,1],"nice":false,"zero":false},"axis":{"values":[-1,-0.5,0,0.5,1],"labelOffset":{"condition":{"test":"abs(datum.value)==0.5","value":-18},"value":0},"labelExpr":"datum.value==0.5?['1\u00a0','\u2014','2\u00a0']:datum.value==-0.5?['1\u00a0','\u2212\u2014','2\u00a0']:datum.value==1?'1':datum.value==-1?'\u22121':'0'","title":"K\u1d67 [\u03c0/a]"}}},
"layer":[
{"data":{"name":"dia"},"mark":{"type":"line","color":"#555","strokeWidth":1.6,"strokeDash":[5,3.5],"clip":true},"encoding":{"order":{"value":null}}},
{"data":{"name":"pts"},"transform":[{"lookup":"s","from":{"data":{"name":"seg"},"key":"s","fields":["g","c","w"]}},{"filter":"indexof(datum.g,'d')>=0"}],"mark":{"type":"line","interpolate":"catmull-rom","clip":true,"strokeCap":"butt","strokeJoin":"round"},"encoding":{"order":{"value":null},"detail":{"field":"s"},"color":{"field":"c","type":"nominal","scale":{"domain":["R","G","B","C","D","N","L","P"],"range":["#ee1c1c","#1fe01f","#1c1cf5","#c8104e","#1d6a43","#2e1a7e","#2a2ad8","#5a28a8"]},"legend":null},"strokeWidth":{"field":"w","type":"nominal","scale":{"type":"ordinal","domain":["t","m","M","k","K","X","W"],"range":[2.2,3.2,3.5,5,6.5,7,16]},"legend":null},"opacity":{"field":"w","type":"nominal","scale":{"type":"ordinal","domain":["t","m","M","k","K","X","W"],"range":[1,1,1,1,1,1,0.3]},"legend":null}}},
{"data":{"name":"dots"},"transform":[{"filter":"indexof(datum.g,'d')>=0"}],"mark":{"type":"point","filled":true,"color":"#000","size":30,"opacity":0.85}},
{"data":{"name":"txt"},"transform":[{"filter":"datum.p=='d' && datum.k=='l'"}],"mark":{"type":"text","fontSize":42,"font":"Liberation Serif","fontStyle":"italic"},"encoding":{"text":{"field":"t"}}},
{"data":{"name":"txt"},"transform":[{"filter":"datum.p=='d' && datum.k=='r'"}],"mark":{"type":"text","fontSize":40,"font":"Liberation Serif"},"encoding":{"text":{"field":"t"}}},
{"data":{"name":"lab"},"transform":[{"filter":"datum.p=='d'"}],"mark":{"type":"text","fontSize":34,"font":"Liberation Serif"},"encoding":{"text":{"field":"t"}}}
]},
{"width":400,"height":399,
"encoding":{"x":{"field":"x","type":"quantitative","scale":{"domain":[-1,1],"nice":false,"zero":false},"axis":{"values":[-1,-0.5,0,0.5,1],"labels":false,"title":null}},
"y":{"field":"y","type":"quantitative","scale":{"domain":[-1,1],"nice":false,"zero":false},"axis":{"values":[-1,-0.5,0,0.5,1],"labelOffset":{"condition":{"test":"abs(datum.value)==0.5","value":-18},"value":0},"labelExpr":"datum.value==0.5?['1\u00a0','\u2014','2\u00a0']:datum.value==-0.5?['1\u00a0','\u2212\u2014','2\u00a0']:datum.value==1?'1':datum.value==-1?'\u22121':'0'","title":"K\u1d67 [\u03c0/a]"}}},
"layer":[
{"data":{"name":"dia"},"mark":{"type":"line","color":"#555","strokeWidth":1.6,"strokeDash":[5,3.5],"clip":true},"encoding":{"order":{"value":null}}},
{"data":{"name":"pts"},"transform":[{"lookup":"s","from":{"data":{"name":"seg"},"key":"s","fields":["g","c","w"]}},{"filter":"indexof(datum.g,'b')>=0"}],"mark":{"type":"line","interpolate":"catmull-rom","clip":true,"strokeCap":"butt","strokeJoin":"round"},"encoding":{"order":{"value":null},"detail":{"field":"s"},"color":{"field":"c","type":"nominal","scale":{"domain":["R","G","B","C","D","N","L","P"],"range":["#ee1c1c","#1fe01f","#1c1cf5","#c8104e","#1d6a43","#2e1a7e","#2a2ad8","#5a28a8"]},"legend":null},"strokeWidth":{"field":"w","type":"nominal","scale":{"type":"ordinal","domain":["t","m","M","k","K","X","W"],"range":[2.2,3.2,3.5,5,6.5,7,16]},"legend":null},"opacity":{"field":"w","type":"nominal","scale":{"type":"ordinal","domain":["t","m","M","k","K","X","W"],"range":[1,1,1,1,1,1,0.3]},"legend":null}}},
{"data":{"name":"dots"},"transform":[{"filter":"indexof(datum.g,'b')>=0"}],"mark":{"type":"point","filled":true,"color":"#000","size":30,"opacity":0.85}},
{"data":{"name":"txt"},"transform":[{"filter":"datum.p=='b' && datum.k=='l'"}],"mark":{"type":"text","fontSize":42,"font":"Liberation Serif","fontStyle":"italic"},"encoding":{"text":{"field":"t"}}},
{"data":{"name":"txt"},"transform":[{"filter":"datum.p=='b' && datum.k=='r'"}],"mark":{"type":"text","fontSize":40,"font":"Liberation Serif"},"encoding":{"text":{"field":"t"}}},
{"data":{"name":"lab"},"transform":[{"filter":"datum.p=='b'"}],"mark":{"type":"text","fontSize":34,"font":"Liberation Serif"},"encoding":{"text":{"field":"t"}}}
]},
{"width":400,"height":399,
"encoding":{"x":{"field":"x","type":"quantitative","scale":{"domain":[-1,1],"nice":false,"zero":false},"axis":{"values":[-1,-0.5,0,0.5,1],"labels":false,"title":null}},
"y":{"field":"y","type":"quantitative","scale":{"domain":[-1,1],"nice":false,"zero":false},"axis":{"values":[-1,-0.5,0,0.5,1],"labelOffset":{"condition":{"test":"abs(datum.value)==0.5","value":-18},"value":0},"labelExpr":"datum.value==0.5?['1\u00a0','\u2014','2\u00a0']:datum.value==-0.5?['1\u00a0','\u2212\u2014','2\u00a0']:datum.value==1?'1':datum.value==-1?'\u22121':'0'","title":"K\u1d67 [\u03c0/a]"}}},
"layer":[
{"data":{"name":"dia"},"mark":{"type":"line","color":"#555","strokeWidth":1.6,"strokeDash":[5,3.5],"clip":true},"encoding":{"order":{"value":null}}},
{"data":{"name":"pts"},"transform":[{"lookup":"s","from":{"data":{"name":"seg"},"key":"s","fields":["g","c","w"]}},{"filter":"indexof(datum.g,'e')>=0"}],"mark":{"type":"line","interpolate":"catmull-rom","clip":true,"strokeCap":"butt","strokeJoin":"round"},"encoding":{"order":{"value":null},"detail":{"field":"s"},"color":{"field":"c","type":"nominal","scale":{"domain":["R","G","B","C","D","N","L","P"],"range":["#ee1c1c","#1fe01f","#1c1cf5","#c8104e","#1d6a43","#2e1a7e","#2a2ad8","#5a28a8"]},"legend":null},"strokeWidth":{"field":"w","type":"nominal","scale":{"type":"ordinal","domain":["t","m","M","k","K","X","W"],"range":[2.2,3.2,3.5,5,6.5,7,16]},"legend":null},"opacity":{"field":"w","type":"nominal","scale":{"type":"ordinal","domain":["t","m","M","k","K","X","W"],"range":[1,1,1,1,1,1,0.3]},"legend":null}}},
{"data":{"name":"dots"},"transform":[{"filter":"indexof(datum.g,'e')>=0"}],"mark":{"type":"point","filled":true,"color":"#000","size":30,"opacity":0.85}},
{"data":{"name":"txt"},"transform":[{"filter":"datum.p=='e' && datum.k=='l'"}],"mark":{"type":"text","fontSize":42,"font":"Liberation Serif","fontStyle":"italic"},"encoding":{"text":{"field":"t"}}},
{"data":{"name":"txt"},"transform":[{"filter":"datum.p=='e' && datum.k=='r'"}],"mark":{"type":"text","fontSize":40,"font":"Liberation Serif"},"encoding":{"text":{"field":"t"}}},
{"data":{"name":"lab"},"transform":[{"filter":"datum.p=='e'"}],"mark":{"type":"text","fontSize":34,"font":"Liberation Serif"},"encoding":{"text":{"field":"t"}}}
]},
{"width":400,"height":399,
"encoding":{"x":{"field":"x","type":"quantitative","scale":{"domain":[-1,1],"nice":false,"zero":false},"axis":{"values":[-1,-0.5,0,0.5,1],"labelExpr":"datum.value==0.5?['1','\u2014','2']:datum.value==-0.5?['\u00a0\u00a01','\u2212\u2014','\u00a0\u00a02']:datum.value==1?'1':datum.value==-1?'\u22121':'0'","title":"K\u2093 [\u03c0/a]"}},
"y":{"field":"y","type":"quantitative","scale":{"domain":[-1,1],"nice":false,"zero":false},"axis":{"values":[-1,-0.5,0,0.5,1],"labelOffset":{"condition":{"test":"abs(datum.value)==0.5","value":-18},"value":0},"labelExpr":"datum.value==0.5?['1\u00a0','\u2014','2\u00a0']:datum.value==-0.5?['1\u00a0','\u2212\u2014','2\u00a0']:datum.value==1?'1':datum.value==-1?'\u22121':'0'","title":"K\u1d67 [\u03c0/a]"}}},
"layer":[
{"data":{"name":"dia"},"mark":{"type":"line","color":"#555","strokeWidth":1.6,"strokeDash":[5,3.5],"clip":true},"encoding":{"order":{"value":null}}},
{"data":{"name":"pts"},"transform":[{"lookup":"s","from":{"data":{"name":"seg"},"key":"s","fields":["g","c","w"]}},{"filter":"indexof(datum.g,'c')>=0"}],"mark":{"type":"line","interpolate":"catmull-rom","clip":true,"strokeCap":"butt","strokeJoin":"round"},"encoding":{"order":{"value":null},"detail":{"field":"s"},"color":{"field":"c","type":"nominal","scale":{"domain":["R","G","B","C","D","N","L","P"],"range":["#ee1c1c","#1fe01f","#1c1cf5","#c8104e","#1d6a43","#2e1a7e","#2a2ad8","#5a28a8"]},"legend":null},"strokeWidth":{"field":"w","type":"nominal","scale":{"type":"ordinal","domain":["t","m","M","k","K","X","W"],"range":[2.2,3.2,3.5,5,6.5,7,16]},"legend":null},"opacity":{"field":"w","type":"nominal","scale":{"type":"ordinal","domain":["t","m","M","k","K","X","W"],"range":[1,1,1,1,1,1,0.3]},"legend":null}}},
{"data":{"name":"dots"},"transform":[{"filter":"indexof(datum.g,'c')>=0"}],"mark":{"type":"point","filled":true,"color":"#000","size":30,"opacity":0.85}},
{"data":{"name":"txt"},"transform":[{"filter":"datum.p=='c' && datum.k=='l'"}],"mark":{"type":"text","fontSize":42,"font":"Liberation Serif","fontStyle":"italic"},"encoding":{"text":{"field":"t"}}},
{"data":{"name":"txt"},"transform":[{"filter":"datum.p=='c' && datum.k=='r'"}],"mark":{"type":"text","fontSize":40,"font":"Liberation Serif"},"encoding":{"text":{"field":"t"}}},
{"data":{"name":"lab"},"transform":[{"filter":"datum.p=='c'"}],"mark":{"type":"text","fontSize":34,"font":"Liberation Serif"},"encoding":{"text":{"field":"t"}}}
]},
{"width":400,"height":399,
"encoding":{"x":{"field":"x","type":"quantitative","scale":{"domain":[-1,1],"nice":false,"zero":false},"axis":{"values":[-1,-0.5,0,0.5,1],"labelExpr":"datum.value==0.5?['1','\u2014','2']:datum.value==-0.5?['\u00a0\u00a01','\u2212\u2014','\u00a0\u00a02']:datum.value==1?'1':datum.value==-1?'\u22121':'0'","title":"K\u2093 [\u03c0/a]"}},
"y":{"field":"y","type":"quantitative","scale":{"domain":[-1,1],"nice":false,"zero":false},"axis":{"values":[-1,-0.5,0,0.5,1],"labelOffset":{"condition":{"test":"abs(datum.value)==0.5","value":-18},"value":0},"labelExpr":"datum.value==0.5?['1\u00a0','\u2014','2\u00a0']:datum.value==-0.5?['1\u00a0','\u2212\u2014','2\u00a0']:datum.value==1?'1':datum.value==-1?'\u22121':'0'","title":"K\u1d67 [\u03c0/a]"}}},
"layer":[
{"data":{"name":"dia"},"mark":{"type":"line","color":"#555","strokeWidth":1.6,"strokeDash":[5,3.5],"clip":true},"encoding":{"order":{"value":null}}},
{"data":{"name":"pts"},"transform":[{"lookup":"s","from":{"data":{"name":"seg"},"key":"s","fields":["g","c","w"]}},{"filter":"indexof(datum.g,'f')>=0 && datum.w=='W'"}],"mark":{"type":"line","interpolate":"catmull-rom","clip":true,"strokeCap":"butt","strokeJoin":"round"},"encoding":{"order":{"value":null},"detail":{"field":"s"},"color":{"field":"c","type":"nominal","scale":{"domain":["R","G","B","C","D","N","L","P"],"range":["#ee1c1c","#1fe01f","#1c1cf5","#c8104e","#1d6a43","#2e1a7e","#2a2ad8","#5a28a8"]},"legend":null},"strokeWidth":{"field":"w","type":"nominal","scale":{"type":"ordinal","domain":["t","m","M","k","K","X","W"],"range":[2.2,3.2,3.5,5,6.5,7,16]},"legend":null},"opacity":{"field":"w","type":"nominal","scale":{"type":"ordinal","domain":["t","m","M","k","K","X","W"],"range":[1,1,1,1,1,1,0.3]},"legend":null}}},
{"data":{"name":"pts"},"transform":[{"lookup":"s","from":{"data":{"name":"seg"},"key":"s","fields":["g","c","w"]}},{"filter":"indexof(datum.g,'f')>=0 && datum.w!='W'"}],"mark":{"type":"line","interpolate":"catmull-rom","clip":true,"strokeCap":"butt","strokeJoin":"round"},"encoding":{"order":{"value":null},"detail":{"field":"s"},"color":{"field":"c","type":"nominal","scale":{"domain":["R","G","B","C","D","N","L","P"],"range":["#ee1c1c","#1fe01f","#1c1cf5","#c8104e","#1d6a43","#2e1a7e","#2a2ad8","#5a28a8"]},"legend":null},"strokeWidth":{"field":"w","type":"nominal","scale":{"type":"ordinal","domain":["t","m","M","k","K","X","W"],"range":[2.2,3.2,3.5,5,6.5,7,16]},"legend":null},"opacity":{"field":"w","type":"nominal","scale":{"type":"ordinal","domain":["t","m","M","k","K","X","W"],"range":[1,1,1,1,1,1,0.3]},"legend":null}}},
{"data":{"name":"dots"},"transform":[{"filter":"indexof(datum.g,'f')>=0"}],"mark":{"type":"point","filled":true,"color":"#000","size":30,"opacity":0.85}},
{"data":{"name":"txt"},"transform":[{"filter":"datum.p=='f' && datum.k=='l'"}],"mark":{"type":"text","fontSize":42,"font":"Liberation Serif","fontStyle":"italic"},"encoding":{"text":{"field":"t"}}},
{"data":{"name":"txt"},"transform":[{"filter":"datum.p=='f' && datum.k=='r'"}],"mark":{"type":"text","fontSize":40,"font":"Liberation Serif"},"encoding":{"text":{"field":"t"}}},
{"data":{"name":"lab"},"transform":[{"filter":"datum.p=='f'"}],"mark":{"type":"text","fontSize":34,"font":"Liberation Serif"},"encoding":{"text":{"field":"t"}}}
]}
],
"config":{
"view":{"stroke":"#8a8a8a","strokeWidth":1.5},
"axis":{"grid":false,"domainColor":"#8a8a8a","domainWidth":1.5,"tickColor":"#444","tickSize":-7,"tickWidth":1.2,"labelFont":"Liberation Serif","labelFontStyle":"italic","labelFontSize":21,"labelColor":"#000","labelLineHeight":18,"labelOverlap":false,"labelFlush":false,"titleFont":"Liberation Serif","titleFontStyle":"italic","titleFontWeight":"normal","titleFontSize":23,"titleColor":"#000"},
"axisY":{"labelPadding":12,"titlePadding":20},
"axisX":{"labelPadding":13,"titlePadding":10},
"text":{"font":"Liberation Serif"}
}
}
